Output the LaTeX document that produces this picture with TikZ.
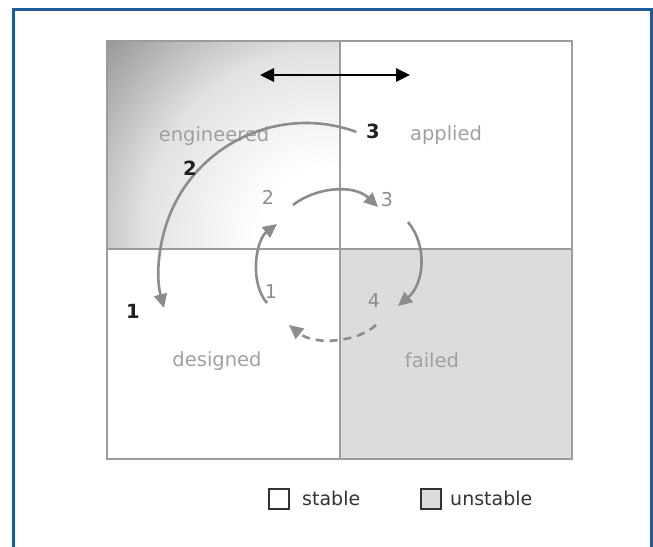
\documentclass[tikz,border=0pt]{standalone}
\usepackage{fontspec}
\setmainfont{DejaVu Sans}
\usetikzlibrary{arrows.meta}

\definecolor{frameblue}{HTML}{1F5A9A}
\definecolor{gridgray}{HTML}{9C9C9C}
\definecolor{labelgray}{HTML}{A0A0A0}
\definecolor{arrowgray}{HTML}{8C8C8C}
\definecolor{unstablefill}{HTML}{DCDCDC}
\definecolor{shadelight}{HTML}{E2E2E2}
\definecolor{shadedark}{HTML}{979797}
\definecolor{legendink}{HTML}{333333}

% soft white glow in the "engineered" quadrant, darkening towards its outer corner
\pgfdeclareradialshading{engshade}{\pgfpointorigin}{%
  color(0bp)=(white); color(65bp)=(white); color(180bp)=(shadelight);
  color(290bp)=(shadedark); color(340bp)=(shadedark)}

\begin{document}
\begin{tikzpicture}[x=1pt,y=-1pt,
  grid/.style={draw=gridgray, line width=2.6pt},
  quad/.style={text=labelgray, font=\fontsize{19.5}{21}\selectfont, inner sep=0pt},
  num/.style={text=arrowgray, font=\fontsize{19}{21}\selectfont, inner sep=0pt},
  bnum/.style={text=black!88, font=\fontsize{19.5}{21}\selectfont\bfseries, inner sep=0pt},
  cyc/.style={draw=arrowgray, line width=2.6pt, -{Triangle[length=14pt,width=13pt]}},
  cycdash/.style={cyc, dash pattern=on 8pt off 6pt},
  dblarrow/.style={draw=black, line width=2.6pt,
    {Triangle[length=14pt,width=13pt]}-{Triangle[length=14pt,width=13pt]}},
  legendbox/.style={draw=legendink, line width=1.4pt, minimum size=20pt, inner sep=0pt},
  legendtext/.style={text=legendink, font=\fontsize{19}{21}\selectfont, anchor=west, inner sep=0pt}
]
\useasboundingbox (0,0) rectangle (653,546);
\fill[white] (0,0) rectangle (653,546);

% outer blue frame
\draw[frameblue, line width=3pt] (13,560) -- (13,9.5) -- (651,9.5) -- (651,560);

% quadrant backgrounds
\begin{scope}
  \clip (107,41) rectangle (340,249);
  \begin{pgfscope}
    \pgftransformshift{\pgfpoint{325pt}{-232pt}}
    \pgflowlevelsynccm
    \pgfuseshading{engshade}
  \end{pgfscope}
\end{scope}
\fill[unstablefill] (340,249) rectangle (572,459);

% grid
\draw[grid] (107,41) rectangle (572,459);
\draw[grid] (340,41) -- (340,459);
\draw[grid] (107,249) -- (572,249);

% quadrant labels
\node[quad] (eng) at (214,136) {engineered};
\node[quad] (app) at (446,135) {applied};
\node[quad] (des) at (217,361) {designed};
\node[quad] (fai) at (432,360) {failed};

% two-way arrow across the top
\coordinate (ha) at (260,75);
\coordinate (hb) at (410,75);
\draw[dblarrow] (ha) -- (hb);

% large cycle: from applied back over engineered down to designed
\coordinate (bigstart) at (356.3,131.9);
\draw[cyc] (bigstart) arc[start angle=-70, end angle=-195, radius=147];

% small cycle
\coordinate (s1a) at (267,303);
\coordinate (s1b) at (277,224);
\coordinate (s2a) at (293,205);
\coordinate (s2b) at (378,207);
\coordinate (s3a) at (408,222);
\coordinate (s3b) at (398,306);
\coordinate (s4a) at (376,325);
\coordinate (s4b) at (289,325);
\draw[cyc] (s1a) .. controls (249,282) and (256,240) .. (s1b);
\draw[cyc] (s2a) .. controls (316,187) and (354,184) .. (s2b);
\draw[cyc] (s3a) .. controls (428,246) and (424,284) .. (s3b);
\draw[cycdash] (s4a) .. controls (358,342) and (315,346) .. (s4b);

% step numbers
\node[num] (n1) at (271,292) {1};
\node[num] (n2) at (268,197) {2};
\node[num] (n3) at (387,200) {3};
\node[num] (n4) at (374,301) {4};
\node[bnum] (b1) at (133,311) {1};
\node[bnum] (b2) at (190,168) {2};
\node[bnum] (b3) at (373,131) {3};

% legend
\node[legendbox] (stablebox) at (279,499) {};
\node[legendtext] (stabletext) at (302,498) {stable};
\node[legendbox, fill=unstablefill] (unstablebox) at (431,499) {};
\node[legendtext] (unstabletext) at (450,498) {unstable};
\end{tikzpicture}
\end{document}
